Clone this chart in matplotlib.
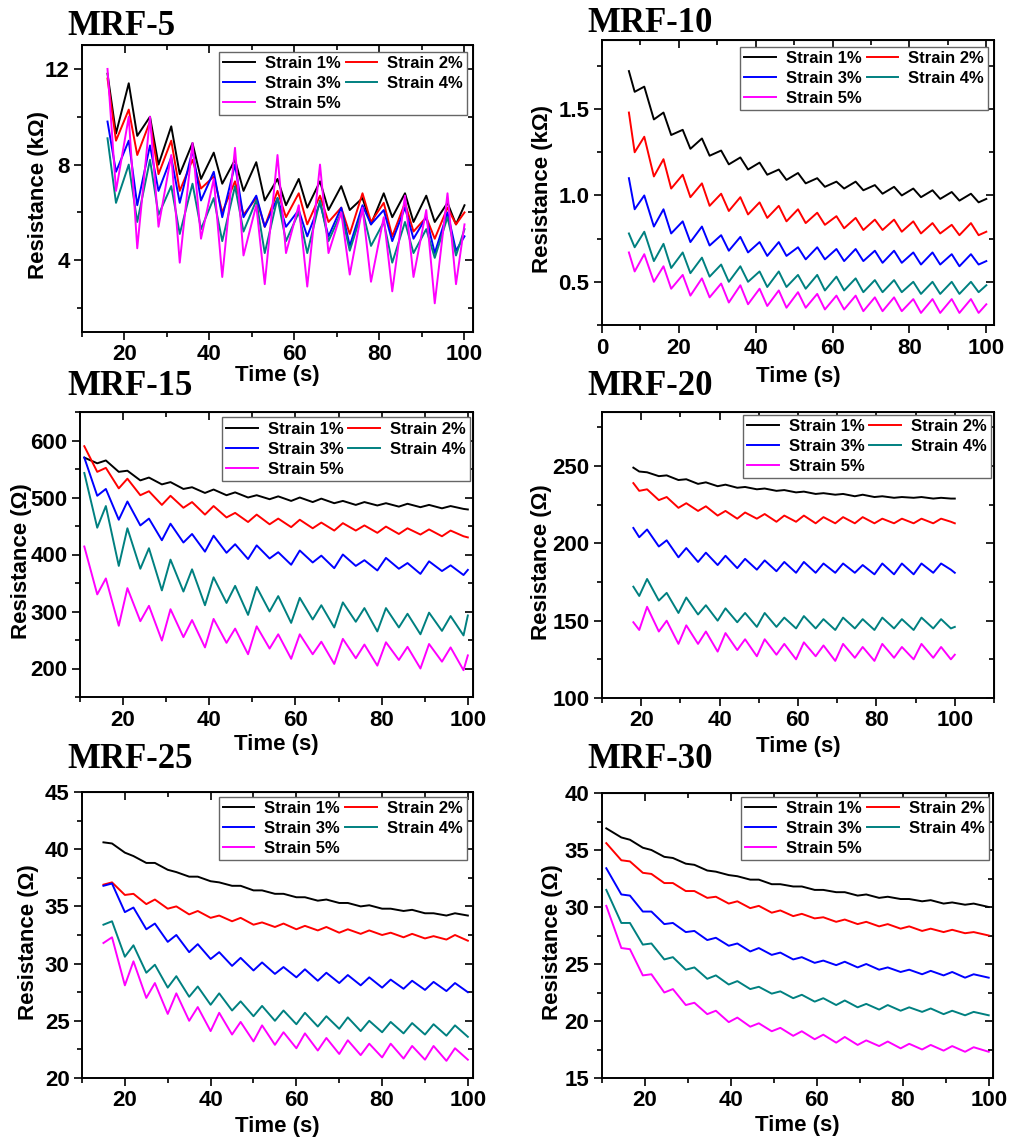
import matplotlib.pyplot as plt
from matplotlib.ticker import MultipleLocator

plt.rcParams['font.family'] = ['Liberation Sans', 'DejaVu Sans']
plt.rcParams['font.weight'] = 'bold'
plt.rcParams['axes.labelweight'] = 'bold'

labels = ['Strain 1%', 'Strain 2%', 'Strain 3%', 'Strain 4%', 'Strain 5%']
colors = ['#000000', '#ff0000', '#0000ff', '#008080', '#ff00ff']

# MRF-5, resistance in kOhm (peaks / troughs)
mrf5_t = [16, 18, 21, 23, 26, 28, 31, 33, 36, 38, 41, 43, 46, 48, 51, 53, 56, 58,
          61, 63, 66, 68, 71, 73, 76, 78, 81, 83, 86, 88, 91, 93, 96, 98, 100]
mrf5_s1 = [11.8, 9.3, 11.4, 9.2, 10.0, 8.0, 9.6, 7.6, 8.9, 7.4, 8.5, 7.2, 8.2, 6.9, 8.1, 6.5, 7.4, 6.3,
           7.4, 6.2, 7.3, 6.1, 7.1, 6.1, 6.6, 5.5, 6.8, 5.8, 6.8, 5.6, 6.7, 5.6, 6.4, 5.5, 6.3]
mrf5_s2 = [11.6, 9.0, 10.3, 8.4, 9.8, 7.6, 9.0, 6.9, 8.2, 7.0, 7.5, 6.0, 7.3, 5.9, 6.6, 5.4, 6.9, 5.8,
           6.8, 5.5, 6.7, 5.6, 6.2, 5.1, 6.8, 5.6, 6.4, 5.0, 6.4, 5.2, 5.8, 4.9, 6.2, 5.5, 6.0]
mrf5_s3 = [9.8, 7.7, 9.0, 6.3, 8.8, 6.9, 8.3, 6.4, 8.6, 6.5, 7.7, 5.8, 8.0, 5.8, 6.7, 5.4, 6.6, 5.4,
           6.1, 5.0, 6.4, 5.0, 6.2, 4.6, 6.3, 5.5, 6.1, 4.8, 6.2, 4.9, 5.8, 4.3, 6.0, 4.4, 5.0]
mrf5_s4 = [9.1, 6.4, 8.0, 5.6, 8.2, 5.9, 7.1, 5.1, 7.2, 5.3, 6.6, 4.8, 7.1, 5.2, 6.5, 4.3, 6.6, 4.8,
           6.0, 4.3, 6.5, 4.8, 6.0, 4.4, 6.1, 4.6, 5.6, 3.9, 5.6, 4.3, 5.3, 4.1, 5.8, 4.2, 5.3]
mrf5_s5 = [12.0, 6.9, 10.0, 4.5, 10.0, 5.4, 8.4, 3.9, 8.9, 4.9, 7.4, 3.3, 8.7, 4.2, 6.3, 3.0, 8.4, 4.3,
           6.3, 2.9, 8.0, 4.3, 6.0, 3.4, 6.2, 3.1, 5.8, 2.7, 6.7, 3.3, 6.1, 2.2, 6.8, 3.0, 5.5]

# MRF-10, kOhm
mrf10_t = [7, 8.5, 11, 13.5, 16, 18, 21, 23, 26, 28, 31, 33, 36, 38, 41, 43, 46, 48, 51, 53,
           56, 58, 61, 63, 66, 68, 71, 73, 76, 78, 81, 83, 86, 88, 91, 93, 96, 98, 100]
mrf10_s1 = [1.72, 1.60, 1.63, 1.44, 1.48, 1.35, 1.38, 1.27, 1.33, 1.23, 1.26, 1.18, 1.22, 1.15,
            1.19, 1.12, 1.15, 1.09, 1.13, 1.07, 1.10, 1.05, 1.08, 1.04, 1.08, 1.03, 1.06, 1.01,
            1.05, 1.00, 1.04, 0.99, 1.03, 0.98, 1.02, 0.97, 1.01, 0.96, 0.98]
mrf10_s2 = [1.48, 1.25, 1.34, 1.11, 1.21, 1.04, 1.12, 0.99, 1.07, 0.94, 1.01, 0.91, 0.99, 0.89,
            0.96, 0.87, 0.94, 0.85, 0.92, 0.84, 0.90, 0.83, 0.88, 0.81, 0.87, 0.80, 0.86, 0.80,
            0.86, 0.79, 0.85, 0.78, 0.84, 0.78, 0.83, 0.77, 0.84, 0.77, 0.79]
mrf10_s3 = [1.10, 0.92, 1.00, 0.82, 0.92, 0.78, 0.85, 0.73, 0.82, 0.71, 0.77, 0.68, 0.76, 0.67,
            0.73, 0.65, 0.73, 0.65, 0.70, 0.63, 0.70, 0.63, 0.69, 0.62, 0.69, 0.62, 0.68, 0.61,
            0.68, 0.61, 0.67, 0.60, 0.67, 0.60, 0.66, 0.59, 0.66, 0.60, 0.62]
mrf10_s4 = [0.78, 0.70, 0.79, 0.62, 0.72, 0.58, 0.67, 0.55, 0.64, 0.53, 0.60, 0.50, 0.59, 0.50,
            0.56, 0.47, 0.56, 0.47, 0.54, 0.46, 0.54, 0.45, 0.53, 0.45, 0.52, 0.44, 0.51, 0.44,
            0.51, 0.44, 0.50, 0.43, 0.50, 0.43, 0.50, 0.43, 0.50, 0.44, 0.48]
mrf10_s5 = [0.67, 0.56, 0.66, 0.50, 0.59, 0.46, 0.54, 0.42, 0.52, 0.41, 0.49, 0.38, 0.48, 0.37,
            0.46, 0.36, 0.45, 0.35, 0.44, 0.35, 0.43, 0.34, 0.42, 0.34, 0.42, 0.33, 0.41, 0.33,
            0.41, 0.33, 0.40, 0.32, 0.40, 0.32, 0.40, 0.32, 0.40, 0.32, 0.37]

# MRF-15, Ohm
mrf15_t = [11, 14, 16, 19, 21, 24, 26, 29, 31, 34, 36, 39, 41, 44, 46, 49, 51, 54, 56,
           59, 61, 64, 66, 69, 71, 74, 76, 79, 81, 84, 86, 89, 91, 94, 96, 99, 100]
mrf15_s1 = [570, 560, 565, 545, 547, 530, 535, 523, 527, 515, 518, 508, 514, 504, 509, 500, 504, 497, 502,
            494, 500, 492, 498, 490, 494, 487, 492, 486, 490, 484, 489, 483, 487, 481, 485, 480, 479]
mrf15_s2 = [590, 545, 552, 516, 533, 504, 511, 487, 503, 482, 492, 470, 485, 465, 473, 457, 470, 453, 463,
            448, 461, 446, 456, 442, 455, 442, 451, 438, 449, 436, 446, 435, 444, 432, 442, 432, 430]
mrf15_s3 = [570, 503, 515, 461, 493, 451, 463, 425, 454, 421, 436, 405, 433, 403, 418, 392, 416, 393, 404,
            382, 407, 386, 398, 376, 400, 380, 390, 372, 394, 375, 385, 366, 388, 371, 381, 364, 373]
mrf15_s4 = [543, 447, 485, 380, 446, 375, 411, 337, 391, 335, 374, 311, 360, 315, 345, 294, 343, 300, 327,
            280, 324, 286, 311, 272, 316, 282, 306, 265, 306, 272, 296, 260, 298, 266, 292, 258, 293]
mrf15_s5 = [414, 330, 358, 275, 341, 283, 310, 249, 304, 255, 285, 237, 287, 245, 270, 225, 274, 235, 260,
            217, 260, 225, 247, 208, 252, 218, 242, 205, 246, 215, 238, 200, 243, 212, 237, 197, 223]

# MRF-20, Ohm
mrf20_t = [18, 19.5, 21.5, 24.5, 26.5, 29.5, 31.5, 34.5, 36.5, 39.5, 41.5, 44.5, 46.5, 49.5, 51.5, 54.5,
           56.5, 59.5, 61.5, 64.5, 66.5, 69.5, 71.5, 74.5, 76.5, 79.5, 81.5, 84.5, 86.5, 89.5, 91.5,
           94.5, 96.5, 99, 100]
mrf20_s1 = [249, 246.5, 246, 243.5, 244, 241, 241.5, 238.5, 239.5, 237, 238, 236, 236.5, 235, 235.5, 234,
            234.5, 233, 233.5, 232, 232.5, 231.5, 232, 230.5, 231.5, 230, 230.5, 229.5, 230, 229.5, 230,
            229, 229.5, 229, 229]
mrf20_s2 = [239, 234, 235, 228, 230, 223, 226, 221, 224, 218, 221, 216, 220, 216, 219, 214,
            218, 214, 218, 213, 217, 213, 217, 213, 217, 213, 216, 213, 216, 213, 216, 213, 216, 214, 213]
mrf20_s3 = [210, 204, 209, 198, 202, 191, 197, 188, 194, 186, 192, 184, 190, 183, 189, 182,
            188, 181, 188, 181, 187, 181, 187, 181, 186, 180, 187, 180, 187, 180, 187, 181, 187, 183, 181]
mrf20_s4 = [172, 166, 177, 163, 168, 155, 165, 154, 160, 150, 158, 149, 155, 146, 155, 146,
            152, 145, 153, 145, 151, 144, 152, 145, 151, 144, 152, 145, 151, 144, 152, 145, 151, 145, 146]
mrf20_s5 = [149, 144, 159, 143, 150, 135, 147, 135, 143, 130, 142, 131, 138, 127, 138, 128,
            135, 125, 136, 127, 134, 124, 135, 126, 133, 124, 135, 126, 133, 125, 135, 126, 133, 125, 128]

# MRF-25, Ohm
mrf25_t = [15, 17, 20, 22, 25, 27, 30, 32, 35, 37, 40, 42, 45, 47, 50, 52, 55, 57,
           60, 62, 65, 67, 70, 72, 75, 77, 80, 82, 85, 87, 90, 92, 95, 97, 100]
mrf25_s1 = [40.6, 40.5, 39.7, 39.4, 38.8, 38.8, 38.2, 38.0, 37.6, 37.6, 37.2, 37.1, 36.8, 36.8, 36.4, 36.4,
            36.1, 36.1, 35.8, 35.8, 35.5, 35.6, 35.3, 35.3, 35.0, 35.1, 34.8, 34.8, 34.6, 34.7, 34.4, 34.4,
            34.2, 34.4, 34.2]
mrf25_s2 = [36.9, 37.1, 36.0, 36.1, 35.2, 35.6, 34.8, 35.0, 34.3, 34.6, 34.0, 34.2, 33.7, 34.0, 33.4, 33.6,
            33.2, 33.5, 33.0, 33.3, 32.9, 33.2, 32.7, 33.0, 32.6, 32.9, 32.5, 32.7, 32.3, 32.6, 32.2, 32.4,
            32.1, 32.5, 32.0]
mrf25_s3 = [36.8, 37.0, 34.5, 34.9, 33.0, 33.5, 31.9, 32.5, 31.0, 31.7, 30.4, 31.0, 29.8, 30.5, 29.4, 30.1,
            29.1, 29.7, 28.8, 29.5, 28.5, 29.2, 28.3, 29.0, 28.1, 28.8, 27.9, 28.6, 27.8, 28.5, 27.7, 28.4,
            27.6, 28.3, 27.5]
mrf25_s4 = [33.4, 33.7, 30.6, 31.6, 29.2, 29.9, 27.9, 28.9, 27.1, 28.0, 26.4, 27.4, 25.9, 26.7, 25.4, 26.3,
            25.0, 25.9, 24.7, 25.7, 24.5, 25.4, 24.3, 25.3, 24.1, 25.0, 24.0, 24.9, 23.9, 24.8, 23.8, 24.7,
            23.7, 24.6, 23.6]
mrf25_s5 = [31.8, 32.3, 28.1, 30.2, 27.0, 28.3, 25.6, 27.4, 25.0, 26.2, 24.1, 25.7, 23.8, 24.9, 23.2, 24.6,
            22.9, 24.0, 22.6, 23.9, 22.4, 23.5, 22.1, 23.3, 22.0, 23.0, 21.8, 23.0, 21.7, 22.8, 21.6, 22.8,
            21.5, 22.6, 21.6]

# MRF-30, Ohm
mrf30_t = [11, 14.5, 16.5, 19.5, 21.5, 24.5, 26.5, 29.5, 31.5, 34.5, 36.5, 39.5, 41.5, 44.5, 46.5, 49.5,
           51.5, 54.5, 56.5, 59.5, 61.5, 64.5, 66.5, 69.5, 71.5, 74.5, 76.5, 79.5, 81.5, 84.5, 86.5,
           89.5, 91.5, 94.5, 96.5, 100]
mrf30_s1 = [36.9, 36.1, 35.9, 35.2, 35.0, 34.4, 34.3, 33.8, 33.7, 33.2, 33.1, 32.8, 32.7, 32.4, 32.4, 32.0,
            32.0, 31.8, 31.8, 31.5, 31.5, 31.3, 31.3, 31.0, 31.1, 30.8, 30.9, 30.7, 30.7, 30.5, 30.6,
            30.3, 30.4, 30.2, 30.3, 30.0]
mrf30_s2 = [35.6, 34.1, 34.0, 33.0, 32.9, 32.1, 32.1, 31.4, 31.4, 30.8, 30.9, 30.3, 30.5, 29.9, 30.1, 29.5,
            29.7, 29.2, 29.4, 29.0, 29.1, 28.7, 28.9, 28.5, 28.7, 28.3, 28.5, 28.1, 28.3, 27.9, 28.1,
            27.8, 28.0, 27.7, 27.8, 27.5]
mrf30_s3 = [33.4, 31.1, 31.0, 29.6, 29.6, 28.5, 28.6, 27.8, 27.9, 27.1, 27.3, 26.6, 26.8, 26.1, 26.4, 25.8,
            26.0, 25.4, 25.6, 25.1, 25.3, 24.9, 25.2, 24.7, 25.0, 24.5, 24.7, 24.3, 24.5, 24.1, 24.4,
            24.0, 24.3, 23.8, 24.1, 23.8]
mrf30_s4 = [31.5, 28.6, 28.6, 26.7, 26.8, 25.4, 25.6, 24.5, 24.7, 23.7, 24.0, 23.2, 23.5, 22.8, 23.0, 22.4,
            22.6, 22.0, 22.3, 21.7, 22.0, 21.4, 21.8, 21.2, 21.5, 21.0, 21.4, 20.9, 21.2, 20.8, 21.1,
            20.6, 20.9, 20.5, 20.8, 20.5]
mrf30_s5 = [30.1, 26.4, 26.3, 24.0, 24.1, 22.5, 22.8, 21.4, 21.6, 20.6, 20.9, 19.9, 20.3, 19.5, 19.8, 19.1,
            19.4, 18.7, 19.1, 18.4, 18.8, 18.1, 18.6, 17.9, 18.3, 17.8, 18.2, 17.6, 18.0, 17.5, 17.9,
            17.4, 17.8, 17.3, 17.7, 17.3]

panels = [
    ('MRF-5', 'Resistance (kΩ)', mrf5_t, [mrf5_s1, mrf5_s2, mrf5_s3, mrf5_s4, mrf5_s5]),
    ('MRF-10', 'Resistance (kΩ)', mrf10_t, [mrf10_s1, mrf10_s2, mrf10_s3, mrf10_s4, mrf10_s5]),
    ('MRF-15', 'Resistance (Ω)', mrf15_t, [mrf15_s1, mrf15_s2, mrf15_s3, mrf15_s4, mrf15_s5]),
    ('MRF-20', 'Resistance (Ω)', mrf20_t, [mrf20_s1, mrf20_s2, mrf20_s3, mrf20_s4, mrf20_s5]),
    ('MRF-25', 'Resistance (Ω)', mrf25_t, [mrf25_s1, mrf25_s2, mrf25_s3, mrf25_s4, mrf25_s5]),
    ('MRF-30', 'Resistance (Ω)', mrf30_t, [mrf30_s1, mrf30_s2, mrf30_s3, mrf30_s4, mrf30_s5]),
]

# layout (pixels of a 1012x1144 canvas): axes box, limits, tick steps, legend anchor, label spots
W, H = 1012, 1144
boxes = [(82, 473, 45, 332), (602, 994, 40, 325), (80, 473, 412, 697),
         (602, 994, 412, 698), (82, 473, 792, 1078), (602, 993, 793, 1078)]
xlims = [(10, 102), (0, 102), (10, 101.2), (10, 110), (10, 101.2), (10, 101)]
ylims = [(1, 13), (0.25, 1.9), (150, 650), (100, 285), (20, 45), (15, 40)]
ysteps = [(4, 2), (0.5, 0.25), (100, 50), (50, 25), (5, 2.5), (5, 2.5)]
leg_anchor = [(0.985, 0.976), (0.985, 0.975), (0.992, 0.981), (0.992, 0.989), (0.984, 0.984), (0.989, 0.986)]
ylab_x = [-0.11, -0.152, -0.15, -0.155, -0.137, -0.127]
xlab_y = [-0.153, -0.179, -0.167, -0.168, -0.169, -0.167]
title_pos = [(67, 35), (587, 32), (67, 395), (587, 395), (67, 768), (587, 768)]

fig = plt.figure(figsize=(W / 100, H / 100), dpi=100)

for i, (name, ylab, t, series) in enumerate(panels):
    l, r, top, bot = boxes[i]
    ax = fig.add_axes([l / W, 1 - bot / H, (r - l) / W, (bot - top) / H])
    lines = []
    for y, c, lab in zip(series, colors, labels):
        ln, = ax.plot(t, y, color=c, lw=1.4, label=lab)
        lines.append(ln)

    ax.set_xlim(*xlims[i])
    ax.set_ylim(*ylims[i])
    ax.xaxis.set_major_locator(MultipleLocator(20))
    ax.xaxis.set_minor_locator(MultipleLocator(10))
    ax.yaxis.set_major_locator(MultipleLocator(ysteps[i][0]))
    ax.yaxis.set_minor_locator(MultipleLocator(ysteps[i][1]))
    ax.tick_params(which='both', direction='out', width=1.2, labelsize=16, pad=3)
    ax.tick_params(which='major', length=6)
    ax.tick_params(which='minor', length=3.5)
    for sp in ax.spines.values():
        sp.set_linewidth(1.4)

    # mirrored ticks pointing inward on top and right
    sx = ax.secondary_xaxis('top')
    sx.xaxis.set_major_locator(MultipleLocator(20))
    sx.xaxis.set_minor_locator(MultipleLocator(10))
    sx.tick_params(which='both', direction='in', width=1.2, labeltop=False)
    sx.tick_params(which='major', length=6)
    sx.tick_params(which='minor', length=3.5)
    sy = ax.secondary_yaxis('right')
    sy.yaxis.set_major_locator(MultipleLocator(ysteps[i][0]))
    sy.yaxis.set_minor_locator(MultipleLocator(ysteps[i][1]))
    sy.tick_params(which='both', direction='in', width=1.2, labelright=False)
    sy.tick_params(which='major', length=6)
    sy.tick_params(which='minor', length=3.5)

    ax.set_xlabel('Time (s)', fontsize=16)
    ax.xaxis.label.set_va('center')
    ax.xaxis.set_label_coords(0.5, xlab_y[i])
    ax.set_ylabel(ylab, fontsize=16)
    ax.yaxis.label.set_va('center')
    ax.yaxis.set_label_coords(ylab_x[i], 0.476)

    order = [0, 2, 4, 1, 3]
    leg = ax.legend([lines[k] for k in order], [labels[k] for k in order], ncol=2,
                    loc='upper right', bbox_to_anchor=leg_anchor[i], borderaxespad=0,
                    fontsize=12, fancybox=False, edgecolor='#666666', framealpha=1,
                    handlelength=1.9, handletextpad=0.6, columnspacing=0.3,
                    labelspacing=0.3, borderpad=0.25)
    leg.get_frame().set_linewidth(1.0)

    tx, ty = title_pos[i]
    fig.text(tx / W, 1 - ty / H, name, family='Liberation Serif', weight='bold',
             fontsize=25, va='baseline', ha='left')

fig.savefig('out.png', dpi=100)
